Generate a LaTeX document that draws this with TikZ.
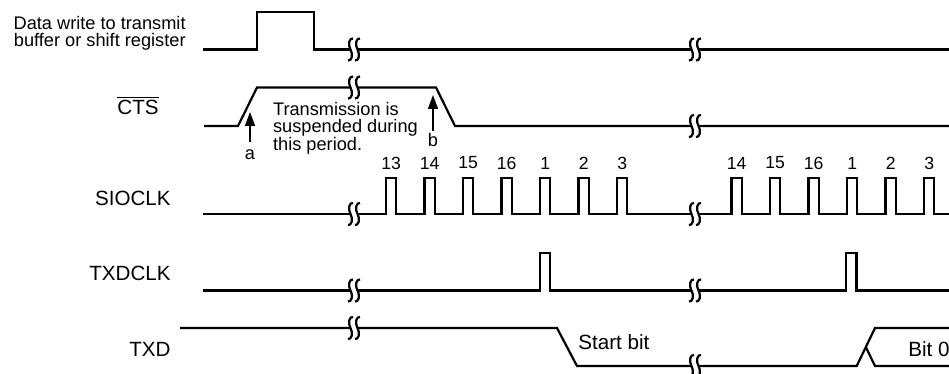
\documentclass[tikz,border=0pt]{standalone}
\usepackage{fontspec}
\setmainfont{Liberation Sans}
\usetikzlibrary{arrows.meta}
\tikzset{
  sig/.style={line width=1.1pt,line join=miter},
  lbl/.style={font=\fontsize{10.3}{12}\selectfont,inner sep=0pt},
  note/.style={font=\fontsize{9.1}{8.9}\selectfont,align=left,inner sep=0pt},
  num/.style={font=\fontsize{8.8}{10}\selectfont,inner sep=0pt},
  pointer/.style={line width=0.75pt,-{Triangle[length=7pt,width=5pt]}},
  cutmark/.pic={
    \fill[white] (-1,-11) .. controls (-4.5,-12) and (-6.5,-5) .. (-3.5,0)
      .. controls (-0.5,5) and (-2.5,12) .. (-6,11) -- (1,11)
      .. controls (4.5,12) and (6.5,5) .. (3.5,0)
      .. controls (0.5,-5) and (2.5,-12) .. (6,-11) -- cycle;
    \draw[sig] (-1,-11) .. controls (-4.5,-12) and (-6.5,-5) .. (-3.5,0)
      .. controls (-0.5,5) and (-2.5,12) .. (-6,11);
    \draw[sig] (6,-11) .. controls (2.5,-12) and (0.5,-5) .. (3.5,0)
      .. controls (6.5,5) and (4.5,12) .. (1,11);
  },
}

\begin{document}
\begin{tikzpicture}[x=0.5pt,y=-0.5pt]
    \useasboundingbox (0,0) rectangle (949,374);
    % signal names
    \node[note,align=right,anchor=east] (lData) at (186,33.3) {Data write to transmit\\buffer or shift register};
    \node[lbl,anchor=base] (lCTS) at (138,114.3) {$\overline{\mbox{CTS}}$};
    \node[lbl,anchor=east] (lSio) at (171,198) {SIOCLK};
    \node[lbl,anchor=east] (lTxc) at (171,273) {TXDCLK};
    \node[lbl,anchor=east] (lTxd) at (171,349) {TXD};
    % data write pulse and CTS
    \draw[sig] (203,49.5) -- (257,49.5) -- (257,12) -- (314,12) -- (314,49.5) -- (949,49.5);
    \draw[sig] (204,126) -- (238,126) -- (257,87.5) -- (436,87.5) -- (455,126) -- (949,126);
    % SIOCLK: 13..3, then 14..3 after the gap
    \draw[sig] (203,214)
      foreach \x in {386,424.5,...,617} { -- (\x,214) -- (\x,178.3) -- (\x+10.3,178.3) -- (\x+10.3,214) }
      foreach \x in {731.5,770,...,924} { -- (\x,214) -- (\x,178.3) -- (\x+10.3,178.3) -- (\x+10.3,214) }
      -- (949,214);
    % TXDCLK
    \draw[sig] (203,290.5) -- (540,290.5) -- (540,252.7) -- (550.3,252.7) -- (550.3,290.5)
      -- (846,290.5) -- (846,252.7) -- (856.5,252.7) -- (856.5,290.5) -- (949,290.5);
    % TXD: start bit, then bit 0
    \draw[sig] (180,328) -- (557,328) -- (577,366) -- (856.7,366) -- (875,328) -- (949,328);
    \draw[sig] (865.8,347) -- (875,366) -- (949,366);
    % time breaks
    \foreach \y in {49.5,87.5,214,290.5,328} \pic at (354,\y) {cutmark};
    \foreach \y in {49.5,126,214,290.5,366} \pic at (695,\y) {cutmark};
    % clock counts
    \foreach \n [count=\k] in {13,14,15,16,1,2,3}
      \node[num] (ca\k) at ({391.2+38.5*(\k-1)},163) {\n};
    \foreach \n [count=\k] in {14,15,16,1,2,3}
      \node[num] (cb\k) at ({736.7+38.5*(\k-1)},163) {\n};
    % suspension window
    \node[note,anchor=base west] (susp) at (272.7,150.7) {Transmission is\\suspended during\\this period.};
    \node[note] (a) at (250,155) {a};
    \coordinate (tipa) at (250,112);
    \draw[pointer,shorten <=4pt] (a) -- (tipa);
    \node[note] (b) at (433,140) {b};
    \coordinate (tipb) at (433,95);
    \draw[pointer,shorten <=1pt] (b) -- (tipb);
    % bit names
    \node[lbl,anchor=west] (start) at (578,342) {Start bit};
    \node[lbl,anchor=west] (bit0) at (908,349) {Bit 0};
\end{tikzpicture}
\end{document}
